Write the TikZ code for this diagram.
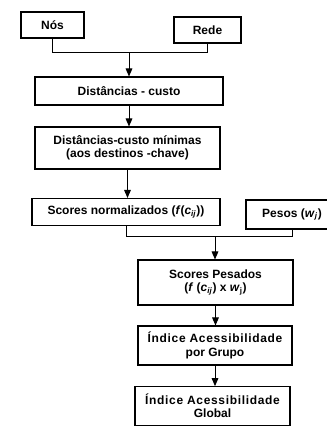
\documentclass[tikz,border=0pt]{standalone}
\usepackage{fontspec}
\setmainfont{Liberation Sans}
\usetikzlibrary{arrows.meta}

\tikzset{every picture/.style={line width=0.75pt}}
\tikzset{caixa/.style={draw, line width=0.8pt, align=center, inner sep=1pt,
  font=\bfseries\fontsize{9}{10}\selectfont},
  seta/.style={-{Triangle[width=5pt,length=6pt]}}}
\newcommand{\itl}[1]{\textit{#1}}
\newcommand{\espaco}[1]{{\addfontfeature{LetterSpace=5.5}#1}}

\begin{document}
\begin{tikzpicture}[x=0.75pt,y=0.75pt,yscale=-1,xscale=1]
\useasboundingbox (0,0) rectangle (326,427);

% Text Node
\node [caixa, minimum width=47.25pt, minimum height=19.5pt] (nos) at (52.5,25) {Nós};
% Text Node
\node [caixa, minimum width=50.25pt, minimum height=19.5pt] (rede) at (207.5,30) {Rede};
% Text Node
\node [caixa, minimum width=141pt, minimum height=21pt] (dist) at (129,91) {Distâncias - custo};
% Text Node
\node [caixa, minimum width=138.75pt, minimum height=31.5pt] (distmin) at (127.5,148) {Distâncias-custo mínimas\\(aos destinos -chave)};
% Text Node
\node [caixa, minimum width=141pt, minimum height=20.25pt] (scores) at (126,212) {Scores normalizados (\itl{f}(\itl{c}\textsubscript{\itl{ij}}))};
% Text Node
\node [caixa, minimum width=69pt, minimum height=21.75pt] (pesos) at (292,214.5) {Pesos (\itl{w}\textsubscript{\itl{j}})};
% Text Node
\node [caixa, minimum width=116.25pt, minimum height=33.75pt] (pesados) at (215.5,282.5) {Scores Pesados\\(\itl{f} (\itl{c}\textsubscript{\itl{ij}}) x \itl{w}\textsubscript{j})};
% Text Node
\node [caixa, minimum width=115.5pt, minimum height=29.25pt] (grupo) at (215,345.5) {\espaco{Índice Acessibilidade}\\por Grupo};
% Text Node
\node [caixa, minimum width=116.25pt, minimum height=29pt] (global) at (212.5,406) {\espaco{Índice Acessibilidade}\\Global};

% joins
\coordinate (j1) at (129,53);
\coordinate (j2) at (215,236);
\draw (nos.south) -- (nos.south |- j1) -- (rede.south |- j1) -- (rede.south);
\draw [seta] (j1) -- (dist.north);
\draw [seta] (dist.south) -- (dist.south |- distmin.north);
\draw [seta] (distmin.south) -- (distmin.south |- scores.north);
\draw (scores.south) -- (scores.south |- j2) -- (pesos.south |- j2) -- (pesos.south);
\draw [seta] (j2) -- (j2 |- pesados.north);
\draw [seta] (pesados.south) -- (pesados.south |- grupo.north);
\draw [seta] (grupo.south) -- (grupo.south |- global.north);

\end{tikzpicture}
\end{document}
